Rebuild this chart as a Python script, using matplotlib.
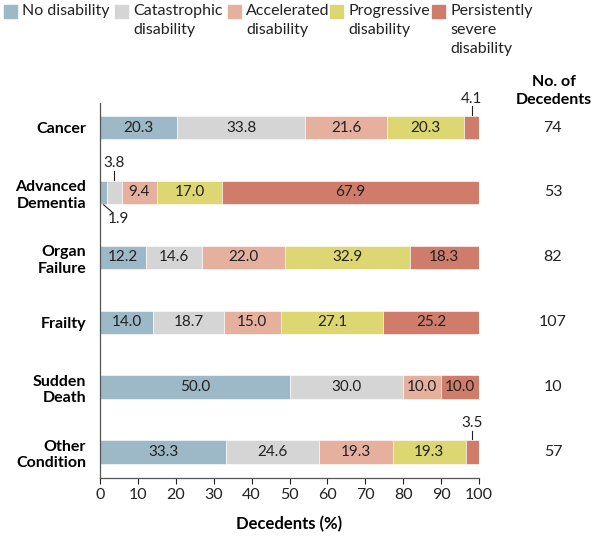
import matplotlib

matplotlib.use("Agg")
import matplotlib.pyplot as plt
import numpy as np

plt.rcParams["font.family"] = ["Lato", "DejaVu Sans"]

conditions = ["Cancer", "Advanced\nDementia", "Organ\nFailure", "Frailty",
              "Sudden\nDeath", "Other\nCondition"]
categories = ["No disability", "Catastrophic\ndisability", "Accelerated\ndisability",
              "Progressive\ndisability", "Persistently\nsevere\ndisability"]
no_disability = [20.3, 1.9, 12.2, 14.0, 50.0, 33.3]
catastrophic = [33.8, 3.8, 14.6, 18.7, 30.0, 24.6]
accelerated = [21.6, 9.4, 22.0, 15.0, 10.0, 19.3]
progressive = [20.3, 17.0, 32.9, 27.1, 0.0, 19.3]
persistent = [4.1, 67.9, 18.3, 25.2, 10.0, 3.5]
n_decedents = [74, 53, 82, 107, 10, 57]

colors = ["#9db8c6", "#d5d5d5", "#e6b09f", "#dcd673", "#cf7d6a"]
series = [no_disability, catastrophic, accelerated, progressive, persistent]
ink = "#222222"

fig = plt.figure(figsize=(6, 5.39), dpi=100)
ax = fig.add_axes([0.1667, 0.1132, 0.6316, 0.6958])

y = np.arange(len(conditions))
left = np.zeros(len(conditions))
for vals, color in zip(series, colors):
    vals = np.array(vals)
    ax.barh(y, vals, left=left, height=0.36, color=color,
            edgecolor="white", linewidth=0.4)
    for i, v in enumerate(vals):
        if v >= 5:
            ax.text(left[i] + v / 2, y[i], f"{v:.1f}", ha="center", va="center",
                    fontsize=11, color=ink)
    left += vals


# small segments labelled outside the bars
def tick_label(xv, yi, text):
    ax.plot([xv, xv], [yi - 0.2, yi - 0.33], color=ink, lw=0.8)
    ax.text(xv, yi - 0.34, text, ha="center", va="bottom", fontsize=11, color=ink)


cum_cancer = sum(s[0] for s in series[:4])
tick_label(cum_cancer + persistent[0] / 2, 0, f"{persistent[0]:.1f}")
tick_label(no_disability[1] + catastrophic[1] / 2, 1, f"{catastrophic[1]:.1f}")
ax.plot([no_disability[1] / 2, no_disability[1] / 2 + 2.2], [1.19, 1.3],
        color=ink, lw=0.8)
ax.text(no_disability[1] / 2 + 1.2, 1.3, f"{no_disability[1]:.1f}", ha="left",
        va="top", fontsize=11, color=ink)
cum_other = sum(s[5] for s in series[:4])
tick_label(cum_other + persistent[5] / 2, 5, f"{persistent[5]:.1f}")

ax.set_xlim(0, 100)
ax.set_ylim(5.4, -0.38)
ax.set_xticks(np.arange(0, 101, 10))
ax.tick_params(axis="x", labelsize=11.5, length=4, width=0.8, colors=ink)
ax.set_yticks(y)
ax.set_yticklabels(conditions, fontsize=11.5, fontweight="bold", linespacing=1.25)
ax.tick_params(axis="y", length=0, pad=10)
for side in ["top", "right"]:
    ax.spines[side].set_visible(False)
for side in ["left", "bottom"]:
    ax.spines[side].set_color("#555555")
    ax.spines[side].set_linewidth(0.9)
ax.set_xlabel("Decedents (%)", fontsize=12, fontweight="bold", labelpad=10)

# counts column
for i, n in enumerate(n_decedents):
    ax.text(1.195, y[i], str(n), transform=ax.get_yaxis_transform(),
            ha="center", va="center", fontsize=11.5, color=ink)
ax.text(0.923, 0.831, "No. of\nDecedents", transform=fig.transFigure,
        ha="center", va="center", fontsize=11.5, fontweight="bold",
        linespacing=1.3)

# legend drawn as squares with labels
legend_x = [0.007, 0.192, 0.38, 0.55, 0.72]
for lx, color, label in zip(legend_x, colors, categories):
    fig.patches.append(plt.Rectangle((lx, 0.966), 0.022, 0.024, color=color,
                                     transform=fig.transFigure, figure=fig))
    fig.text(lx + 0.03, 0.993, label, ha="left", va="top", fontsize=11.5,
             color=ink, linespacing=1.45)

fig.savefig("out.png", dpi=100)
